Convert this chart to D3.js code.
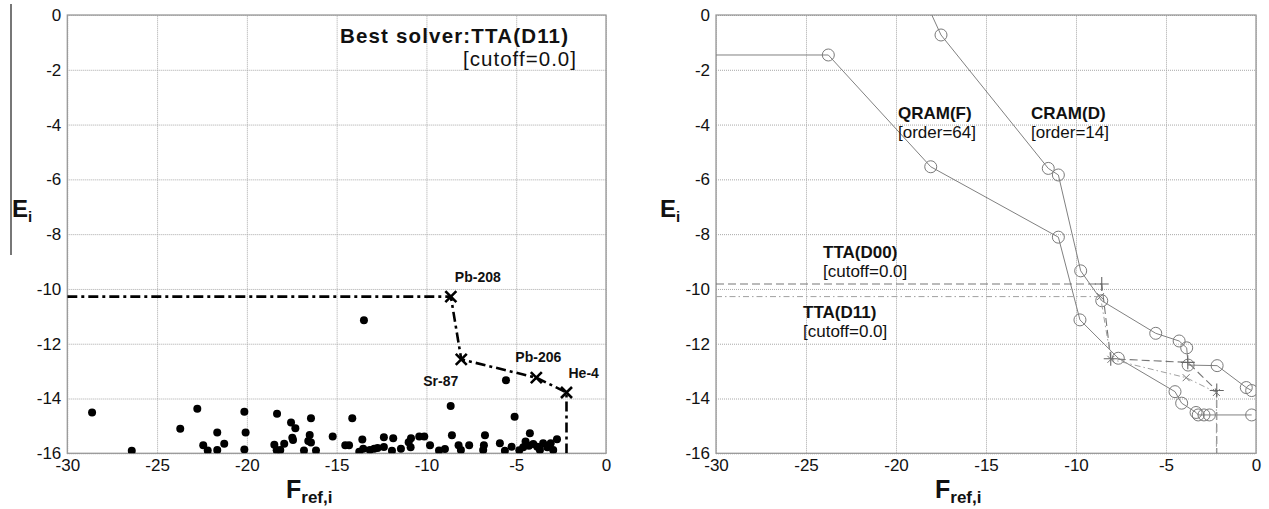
<!DOCTYPE html>
<html>
<head>
<meta charset="utf-8">
<script src="https://cdn.jsdelivr.net/npm/d3@7"></script>
<style>
    body { margin: 0; background: #fff; }
    svg { display: block; font-family: "Liberation Sans", Arial, sans-serif; }
</style>
</head>
<body>
<svg id="chart" width="1269" height="509"></svg>
<script>
// axis ticks
const xTicks = [-30, -25, -20, -15, -10, -5, 0];
const yTicks = [0, -2, -4, -6, -8, -10, -12, -14, -16];

// left panel: all nuclides (F_ref,i , E_i)
const nuclideF = [-28.62, -26.41, -22.76, -23.71, -20.14, -21.65, -20.07, -22.43, -22.18, -21.65, -21.26, -20.14,
    -18.32, -17.54, -17.30, -17.47, -17.43, -18.47, -18.34, -18.14, -17.92, -16.43, -16.50, -16.58, -16.43,
    -16.82, -16.15, -15.22, -14.13, -14.52, -14.31, -13.57, -13.74, -13.52, -13.15, -12.91, -12.72, -12.37,
    -12.37, -11.85, -11.92, -11.42, -10.99, -10.86, -10.88, -10.40, -10.12, -9.80, -13.48, -9.30, -8.97,
    -8.65, -8.58, -8.21, -8.08, -7.62, -6.74, -6.80, -6.84, -5.57, -5.91, -5.63, -5.09, -5.26, -4.83, -4.61,
    -4.48, -4.24, -4.29, -4.05, -3.83, -3.68, -3.50, -3.27, -3.08, -2.94, -2.73];
const nuclideE = [-14.51, -15.91, -14.37, -15.10, -14.48, -15.24, -15.24, -15.71, -15.90, -15.88, -15.65, -15.86,
    -14.56, -14.88, -15.09, -15.43, -15.51, -15.69, -15.89, -15.88, -15.65, -14.72, -15.33, -15.55, -15.61,
    -15.90, -15.90, -15.39, -14.72, -15.71, -15.71, -15.50, -15.94, -15.83, -15.88, -15.83, -15.81, -15.41,
    -15.77, -15.45, -15.91, -15.83, -15.60, -15.45, -15.78, -15.39, -15.39, -15.71, -11.14, -15.90, -15.84,
    -14.27, -15.34, -15.71, -15.88, -15.71, -15.34, -15.71, -15.88, -13.33, -15.63, -15.91, -14.67, -15.76,
    -15.89, -15.78, -15.57, -15.27, -15.72, -15.66, -15.76, -15.88, -15.63, -15.78, -15.63, -15.88, -15.49];

// TTA(D11) frontier (best solver), cutoff = 0.0
const ttaD11F = [-30, -8.64, -8.06, -3.88, -2.2, -2.2];
const ttaD11E = [-10.28, -10.28, -12.57, -13.24, -13.78, -16];
const ttaD11Names = ["", "Pb-208", "Sr-87", "Pb-206", "He-4", ""];

// TTA(D00) frontier, cutoff = 0.0
const ttaD00F = [-30, -8.57, -8.07, -3.79, -2.18, -2.18];
const ttaD00E = [-9.82, -9.82, -12.55, -12.68, -13.71, -16];

// CRAM(D), order 14
const cramF = [-18.5, -17.5, -11.54, -10.98, -9.74, -8.57, -5.57, -4.27, -3.85, -3.77, -2.16, -0.54, -0.24];
const cramE = [0.7, -0.73, -5.6, -5.84, -9.34, -10.43, -11.62, -11.9, -12.15, -12.78, -12.8, -13.6, -13.71];

// QRAM(F), order 64
const qramF = [-35, -23.76, -18.07, -10.98, -9.78, -7.65, -4.5, -4.13, -3.33, -3.21, -2.89, -2.59, -0.24];
const qramE = [-1.46, -1.46, -5.54, -8.11, -11.13, -12.53, -13.75, -14.17, -14.51, -14.6, -14.6, -14.6, -14.6];

var svg = d3.select("#chart");
var top0 = 15, bottom0 = 453.3;

function zip(xs, ys) {
    return xs.map(function (d, i) { return { f: d, e: ys[i] }; });
}

function makePanel(left, right, id) {
    var xScale = d3.scaleLinear().domain([-30, 0]).range([left, right]);
    var yScale = d3.scaleLinear().domain([0, -16]).range([top0, bottom0]);
    var g = svg.append("g").attr("class", "panel-" + id);

    // grid
    g.append("g")
        .attr("class", "grid")
        .attr("transform", "translate(0," + bottom0 + ")")
        .call(d3.axisBottom(xScale).tickValues(xTicks).tickSize(-(bottom0 - top0)).tickFormat(""));
    g.append("g")
        .attr("class", "grid")
        .attr("transform", "translate(" + left + ",0)")
        .call(d3.axisLeft(yScale).tickValues(yTicks).tickSize(-(right - left)).tickFormat(""));
    g.selectAll(".grid .domain").remove();
    g.selectAll(".grid line")
        .attr("stroke", "#a8a8a8")
        .attr("stroke-width", 1)
        .attr("stroke-dasharray", "1,1");

    g.append("rect")
        .attr("x", left).attr("y", top0)
        .attr("width", right - left).attr("height", bottom0 - top0)
        .attr("fill", "none").attr("stroke", "#999").attr("stroke-width", 1.3);

    // tick labels
    var xa = g.append("g")
        .attr("transform", "translate(0," + bottom0 + ")")
        .call(d3.axisBottom(xScale).tickValues(xTicks).tickSize(0).tickPadding(6)
            .tickFormat(function (d) { return String(d); }));
    var ya = g.append("g")
        .attr("transform", "translate(" + left + ",0)")
        .call(d3.axisLeft(yScale).tickValues(yTicks).tickSize(0).tickPadding(6)
            .tickFormat(function (d) { return String(d); }));
    [xa, ya].forEach(function (a) {
        a.select(".domain").remove();
        a.selectAll("text")
            .attr("fill", "#111")
            .style("font-size", "17px")
            .style("font-family", "Liberation Sans, Arial, sans-serif");
    });

    // clip
    svg.append("clipPath").attr("id", "clip-" + id)
        .append("rect")
        .attr("x", left).attr("y", top0)
        .attr("width", right - left).attr("height", bottom0 - top0);

    return { g: g, x: xScale, y: yScale, left: left, right: right };
}

function axisTitles(p, ex, fx) {
    var e = p.g.append("text")
        .attr("x", ex).attr("y", 217)
        .style("font-weight", "bold").style("font-size", "24px").attr("fill", "#111");
    e.append("tspan").text("E");
    e.append("tspan").attr("dy", 5).style("font-size", "15px").text("i");

    var f = p.g.append("text")
        .attr("x", fx).attr("y", 498)
        .style("font-weight", "bold").style("font-size", "25px").attr("fill", "#111");
    f.append("tspan").text("F");
    f.append("tspan").attr("dy", 5).style("font-size", "17px").text("ref,i");
}

function drawCross(sel, p, data, size, color, width) {
    sel.selectAll(null).data(data).enter()
        .append("path")
        .attr("d", function (d) {
            var cx = p.x(d.f), cy = p.y(d.e);
            return "M" + (cx - size) + "," + (cy - size) + "L" + (cx + size) + "," + (cy + size) +
                "M" + (cx - size) + "," + (cy + size) + "L" + (cx + size) + "," + (cy - size);
        })
        .attr("stroke", color).attr("stroke-width", width).attr("fill", "none");
}

function drawPlus(sel, p, data, size, color, width) {
    sel.selectAll(null).data(data).enter()
        .append("path")
        .attr("d", function (d) {
            var cx = p.x(d.f), cy = p.y(d.e);
            return "M" + (cx - size) + "," + cy + "L" + (cx + size) + "," + cy +
                "M" + cx + "," + (cy - size) + "L" + cx + "," + (cy + size);
        })
        .attr("stroke", color).attr("stroke-width", width).attr("fill", "none");
}

function lineGen(p) {
    return d3.line()
        .x(function (d) { return p.x(d.f); })
        .y(function (d) { return p.y(d.e); });
}

// ---------- left panel ----------
var pL = makePanel(67.3, 606, "left");
axisTitles(pL, 12, 286);

// stray vertical rule at far left
svg.append("line")
    .attr("x1", 11).attr("x2", 11).attr("y1", 4).attr("y2", 255)
    .attr("stroke", "#777").attr("stroke-width", 2);

var lPlot = pL.g.append("g").attr("clip-path", "url(#clip-left)");

lPlot.selectAll(".dot").data(zip(nuclideF, nuclideE)).enter()
    .append("circle")
    .attr("class", "dot")
    .attr("cx", function (d) { return pL.x(d.f); })
    .attr("cy", function (d) { return pL.y(d.e); })
    .attr("r", 4)
    .attr("fill", "#000");

var best = zip(ttaD11F, ttaD11E);
lPlot.append("path")
    .datum(best)
    .attr("d", lineGen(pL))
    .attr("fill", "none")
    .attr("stroke", "#000")
    .attr("stroke-width", 2.6)
    .attr("stroke-dasharray", "10,4,3,4");

drawCross(lPlot, pL, best.slice(1, 5), 5.5, "#000", 2.6);

// nuclide labels (dx, dy, anchor per marker)
var labelPos = [null, [4, -15, "start"], [-3, 27, "end"], [2, -16, "middle"], [2, -14, "start"]];
pL.g.selectAll(".nlabel").data(best.slice(1, 5)).enter()
    .append("text")
    .attr("class", "nlabel")
    .attr("x", function (d, i) { return pL.x(d.f) + labelPos[i + 1][0]; })
    .attr("y", function (d, i) { return pL.y(d.e) + labelPos[i + 1][1]; })
    .attr("text-anchor", function (d, i) { return labelPos[i + 1][2]; })
    .style("font-weight", "bold").style("font-size", "14px").attr("fill", "#111")
    .text(function (d, i) { return ttaD11Names[i + 1]; });

pL.g.append("text")
    .attr("x", 340).attr("y", 43)
    .style("font-weight", "bold").style("font-size", "20.5px").attr("fill", "#111")
    .attr("textLength", 228).attr("lengthAdjust", "spacing")
    .text("Best solver:TTA(D11)");
pL.g.append("text")
    .attr("x", 463).attr("y", 66)
    .style("font-size", "20.5px").attr("fill", "#111")
    .attr("textLength", 113).attr("lengthAdjust", "spacing")
    .text("[cutoff=0.0]");

// ---------- right panel ----------
var pR = makePanel(716, 1256, "right");
axisTitles(pR, 660, 935);

var rPlot = pR.g.append("g").attr("clip-path", "url(#clip-right)");

[zip(qramF, qramE), zip(cramF, cramE)].forEach(function (series) {
    rPlot.append("path")
        .datum(series)
        .attr("d", lineGen(pR))
        .attr("fill", "none")
        .attr("stroke", "#808080")
        .attr("stroke-width", 1);
    rPlot.selectAll(null).data(series).enter()
        .append("circle")
        .attr("cx", function (d) { return pR.x(d.f); })
        .attr("cy", function (d) { return pR.y(d.e); })
        .attr("r", 6)
        .attr("fill", "none")
        .attr("stroke", "#7a7a7a")
        .attr("stroke-width", 1);
});

var d00 = zip(ttaD00F, ttaD00E);
var d11 = zip(ttaD11F, ttaD11E);
rPlot.append("path")
    .datum(d00)
    .attr("d", lineGen(pR))
    .attr("fill", "none")
    .attr("stroke", "#777")
    .attr("stroke-width", 1.1)
    .attr("stroke-dasharray", "8,4");
rPlot.append("path")
    .datum(d11)
    .attr("d", lineGen(pR))
    .attr("fill", "none")
    .attr("stroke", "#a0a0a0")
    .attr("stroke-width", 1)
    .attr("stroke-dasharray", "6,3,1.5,3");
drawPlus(rPlot, pR, d00.slice(1, 5), 7, "#666", 1.1);
drawCross(rPlot, pR, d11.slice(1, 5), 3.5, "#777", 1);

function twoLine(p, x, y, anchor, title, sub) {
    p.g.append("text")
        .attr("x", x).attr("y", y).attr("text-anchor", anchor)
        .style("font-weight", "bold").style("font-size", "17px").attr("fill", "#111")
        .text(title);
    p.g.append("text")
        .attr("x", x).attr("y", y + 19).attr("text-anchor", anchor)
        .style("font-size", "17px").attr("fill", "#111")
        .text(sub);
}

twoLine(pR, 898, 119, "start", "QRAM(F)", "[order=64]");
twoLine(pR, 1031, 119, "start", "CRAM(D)", "[order=14]");
twoLine(pR, 823, 258, "start", "TTA(D00)", "[cutoff=0.0]");
twoLine(pR, 803, 318, "start", "TTA(D11)", "[cutoff=0.0]");
</script>
</body>
</html>
